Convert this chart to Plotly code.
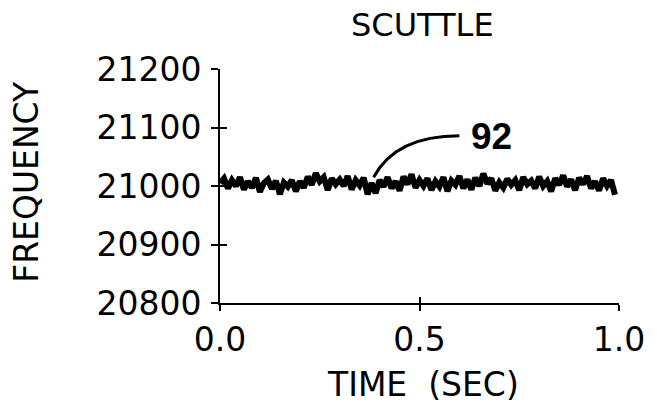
import plotly.graph_objects as go

TITLE = "SCUTTLE"
X_TITLE = "TIME\u00a0\u00a0(SEC)"
Y_TITLE = "FREQUENCY"
LABEL = "92"

X_TICKS = [0.0, 0.5, 1.0]
X_TICK_TEXT = ["0.0", "0.5", "1.0"]
Y_TICKS = [20800, 20900, 21000, 21100, 21200]
Y_TICK_TEXT = ["20800", "20900", "21000", "21100", "21200"]

TIME = [0.00, 0.01, 0.02, 0.03, 0.04, 0.05, 0.06, 0.07, 0.08, 0.09,
        0.10, 0.11, 0.12, 0.13, 0.14, 0.15, 0.16, 0.17, 0.18, 0.19,
        0.20, 0.21, 0.22, 0.23, 0.24, 0.25, 0.26, 0.27, 0.28, 0.29,
        0.30, 0.31, 0.32, 0.33, 0.34, 0.35, 0.36, 0.37, 0.38, 0.39,
        0.40, 0.41, 0.42, 0.43, 0.44, 0.45, 0.46, 0.47, 0.48, 0.49,
        0.50, 0.51, 0.52, 0.53, 0.54, 0.55, 0.56, 0.57, 0.58, 0.59,
        0.60, 0.61, 0.62, 0.63, 0.64, 0.65, 0.66, 0.67, 0.68, 0.69,
        0.70, 0.71, 0.72, 0.73, 0.74, 0.75, 0.76, 0.77, 0.78, 0.79,
        0.80, 0.81, 0.82, 0.83, 0.84, 0.85, 0.86, 0.87, 0.88, 0.89,
        0.90, 0.91, 0.92, 0.93, 0.94, 0.95, 0.96, 0.97, 0.98, 0.99]

FREQ = [21005, 21013, 20996, 21010, 21000, 21015, 20994, 21008, 20997, 21014,
        20990, 21005, 21011, 20995, 21009, 20986, 21006, 20999, 21010, 20991,
        21008, 20997, 21016, 21002, 21022, 21008, 21015, 20993, 21013, 21003,
        21011, 21000, 21017, 20994, 21010, 21001, 21014, 20986, 21005, 20988,
        21010, 20999, 21015, 20996, 21008, 20992, 21016, 21003, 21020, 20997,
        21010, 21000, 21013, 20993, 21008, 20999, 21015, 20991, 21009, 21002,
        21017, 20996, 21011, 20994, 21014, 21000, 21021, 21004, 21013, 20992,
        21006, 20997, 21012, 21002, 21010, 20993, 21015, 21003, 21009, 20996,
        21016, 21000, 21008, 20991, 21013, 21002, 21018, 20999, 21011, 20993,
        21014, 21003, 21017, 20996, 21008, 20992, 21013, 21000, 21010, 20985]

# annotation leader curve (data coordinates)
LEADER_START = (0.385, 21015)
LEADER_CTRL = (0.44, 21086)
LEADER_END = (0.6, 21086)
LABEL_POS = (0.68, 21084)

FONT = "DejaVu Sans"

fig = go.Figure()
fig.add_trace(go.Scatter(x=TIME, y=FREQ, mode="lines",
                         line=dict(color="black", width=6),
                         hoverinfo="skip", showlegend=False))
# invisible trace for overlay axes (inside half of crossing ticks)
fig.add_trace(go.Scatter(x=[X_TICKS[0]], y=[Y_TICKS[0]], xaxis="x2", yaxis="y2",
                         mode="markers", marker=dict(opacity=0),
                         hoverinfo="skip", showlegend=False))

axis_common = dict(showgrid=False, zeroline=False, linecolor="black",
                   tickcolor="black", linewidth=2, tickwidth=2)

fig.update_layout(
    width=657, height=410,
    margin=dict(l=220, r=27, t=69, b=107),
    paper_bgcolor="white", plot_bgcolor="white",
    font=dict(family=FONT, color="black"),
    xaxis=dict(range=[0, 1], tickvals=X_TICKS, ticktext=X_TICK_TEXT,
               ticks="outside", ticklen=6, showline=True,
               tickfont=dict(size=33, family=FONT), ticklabelstandoff=0,
               **axis_common),
    yaxis=dict(range=[20800, 21200], tickvals=Y_TICKS, ticktext=Y_TICK_TEXT,
               ticks="outside", ticklen=7, showline=True,
               tickfont=dict(size=33, family=FONT), ticklabelstandoff=3,
               **axis_common),
    xaxis2=dict(range=[0, 1], overlaying="x", matches="x", tickvals=X_TICKS,
                ticks="inside", ticklen=6, showticklabels=False, showline=False,
                **axis_common),
    yaxis2=dict(range=[20800, 21200], overlaying="y", matches="y", tickvals=Y_TICKS,
                ticks="inside", ticklen=7, showticklabels=False, showline=False,
                **axis_common),
)

fig.add_shape(type="path", xref="x", yref="y",
              path=(f"M {LEADER_START[0]},{LEADER_START[1]} "
                    f"Q {LEADER_CTRL[0]},{LEADER_CTRL[1]} {LEADER_END[0]},{LEADER_END[1]}"),
              line=dict(color="black", width=3))

fig.add_annotation(x=LABEL_POS[0], y=LABEL_POS[1], xref="x", yref="y",
                   xanchor="center", yanchor="middle",
                   text=f"<b>{LABEL}</b>", showarrow=False,
                   font=dict(family="Liberation Sans", size=37, color="black"))

fig.add_annotation(x=0.507, y=1.19, xref="paper", yref="paper", text=TITLE,
                   xanchor="center", yanchor="middle",
                   showarrow=False, font=dict(family=FONT, size=32, color="black"))
fig.add_annotation(x=0.51, y=-0.35, xref="paper", yref="paper", text=X_TITLE,
                   xanchor="center", yanchor="middle",
                   showarrow=False, font=dict(family=FONT, size=33, color="black"))
fig.add_annotation(x=-0.485, y=0.52, xref="paper", yref="paper", text=Y_TITLE,
                   xanchor="center", yanchor="middle",
                   textangle=-90, showarrow=False,
                   font=dict(family=FONT, size=33, color="black"))

fig.write_html("out.html")
